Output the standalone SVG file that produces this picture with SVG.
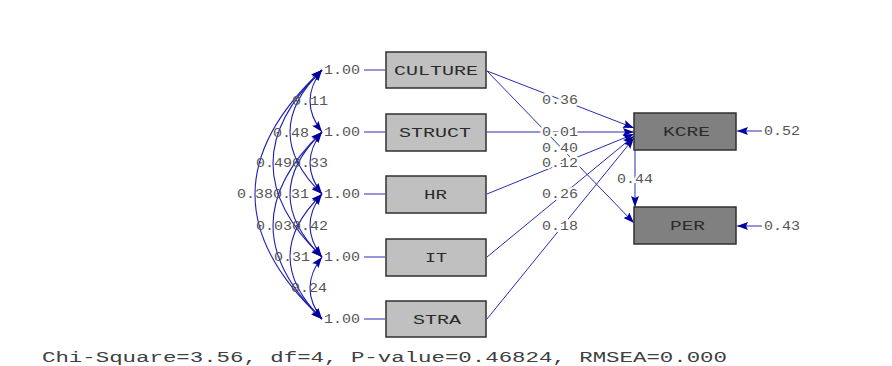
<svg xmlns="http://www.w3.org/2000/svg" width="892" height="366" viewBox="0 0 892 366">
<defs>
<marker id="ah" viewBox="0 0 11 8" refX="11" refY="4" markerWidth="11" markerHeight="8" markerUnits="userSpaceOnUse" orient="auto-start-reverse">
<path d="M0,0 L11,4 L0,8 L2,4 z" fill="#0000a0"/>
</marker>
</defs>
<style>
.bg{fill:#ffffff}
.box{fill:#c0c0c0;stroke:#303030;stroke-width:1.5}
.dbox{fill:#808080;stroke:#303030;stroke-width:1.5}
.lbl{font-family:"Liberation Mono",monospace;font-size:13px;fill:#2a2a2a;text-anchor:middle}
.num{font-family:"Liberation Mono",monospace;font-size:12px;fill:#555555}
.mask{stroke:#ffffff;stroke-width:4;paint-order:stroke}
.ln{stroke:#2a2ab0;stroke-width:1;fill:none}
.cv{stroke:#2020b0;stroke-width:1.1;fill:none;marker-start:url(#ah);marker-end:url(#ah)}
.ar{marker-end:url(#ah)}
.fit{font-family:"Liberation Mono",monospace;font-size:14px;fill:#404040}
</style>
<rect class="bg" x="0" y="0" width="892" height="366"/>

<g id="connectors">
<!-- covariances -->
<path class="cv" d="M322,70 Q298,101 322,132"/>
<path class="cv" d="M322,132 Q298,163 322,194"/>
<path class="cv" d="M322,194 Q298,225.5 322,257"/>
<path class="cv" d="M322,257 Q298,288 322,319"/>
<path class="cv" d="M322,70 Q258,132 322,194"/>
<path class="cv" d="M322,132 Q258,194.5 322,257"/>
<path class="cv" d="M322,194 Q258,256.5 322,319"/>
<path class="cv" d="M322,70 Q224,163.5 322,257"/>
<path class="cv" d="M322,132 Q224,225.5 322,319"/>
<path class="cv" d="M322,70 Q188,194.5 322,319"/>
<!-- variance ticks -->
<path class="ln" d="M364,70 H385 M364,132 H385 M364,194 H385 M364,257 H385 M364,319 H385"/>
<!-- structural paths -->
<path class="ln ar" d="M487,71 L634,128"/>
<path class="ln ar" d="M487,71 L634,223"/>
<path class="ln ar" d="M487,132 L634,132"/>
<path class="ln ar" d="M487,194 L634,134"/>
<path class="ln ar" d="M487,257 L634,136"/>
<path class="ln ar" d="M487,319 L634,138"/>
<path class="ln ar" d="M635,150 L635,207"/>
<path class="ln ar" d="M762,131 L737,131"/>
<path class="ln ar" d="M762,226 L737,226"/>
<!-- labels -->
<text class="num" x="292" y="105" textLength="36" lengthAdjust="spacingAndGlyphs">0.11</text>
<text class="num" x="273" y="137" textLength="36" lengthAdjust="spacingAndGlyphs">0.48</text>
<text class="num" x="256" y="167" textLength="36" lengthAdjust="spacingAndGlyphs">0.49</text>
<text class="num" x="292" y="167" textLength="36" lengthAdjust="spacingAndGlyphs">0.33</text>
<text class="num" x="237" y="198" textLength="36" lengthAdjust="spacingAndGlyphs">0.38</text>
<text class="num" x="273" y="198" textLength="36" lengthAdjust="spacingAndGlyphs">0.31</text>
<text class="num" x="256" y="230" textLength="36" lengthAdjust="spacingAndGlyphs">0.03</text>
<text class="num" x="292" y="230" textLength="36" lengthAdjust="spacingAndGlyphs">0.42</text>
<text class="num" x="274" y="261" textLength="36" lengthAdjust="spacingAndGlyphs">0.31</text>
<text class="num" x="291" y="292" textLength="36" lengthAdjust="spacingAndGlyphs">0.24</text>
<text class="num" x="324" y="74" textLength="36" lengthAdjust="spacingAndGlyphs">1.00</text>
<text class="num" x="324" y="136" textLength="36" lengthAdjust="spacingAndGlyphs">1.00</text>
<text class="num" x="324" y="198" textLength="36" lengthAdjust="spacingAndGlyphs">1.00</text>
<text class="num" x="324" y="261" textLength="36" lengthAdjust="spacingAndGlyphs">1.00</text>
<text class="num" x="324" y="323" textLength="36" lengthAdjust="spacingAndGlyphs">1.00</text>
<text class="num mask" x="542" y="104" textLength="36" lengthAdjust="spacingAndGlyphs">0.36</text>
<text class="num mask" x="542" y="136" textLength="36" lengthAdjust="spacingAndGlyphs">0.01</text>
<text class="num mask" x="542" y="152" textLength="36" lengthAdjust="spacingAndGlyphs">0.40</text>
<text class="num mask" x="542" y="167" textLength="36" lengthAdjust="spacingAndGlyphs">0.12</text>
<text class="num mask" x="542" y="198" textLength="36" lengthAdjust="spacingAndGlyphs">0.26</text>
<text class="num mask" x="542" y="230" textLength="36" lengthAdjust="spacingAndGlyphs">0.18</text>
<text class="num mask" x="617" y="183" textLength="36" lengthAdjust="spacingAndGlyphs">0.44</text>
<text class="num" x="764" y="135" textLength="36" lengthAdjust="spacingAndGlyphs">0.52</text>
<text class="num" x="764" y="230" textLength="36" lengthAdjust="spacingAndGlyphs">0.43</text>
</g>

<g id="CULTURE"><rect class="box" x="386" y="52" width="100" height="36"/><text class="lbl" x="436" y="75" textLength="84" lengthAdjust="spacingAndGlyphs">CULTURE</text></g>
<g id="STRUCT"><rect class="box" x="386" y="114" width="100" height="37"/><text class="lbl" x="435" y="137" textLength="72" lengthAdjust="spacingAndGlyphs">STRUCT</text></g>
<g id="HR"><rect class="box" x="386" y="176" width="100" height="37"/><text class="lbl" x="435.5" y="199" textLength="23" lengthAdjust="spacingAndGlyphs">HR</text></g>
<g id="IT"><rect class="box" x="386" y="239" width="100" height="37"/><text class="lbl" x="436" y="262" textLength="22" lengthAdjust="spacingAndGlyphs">IT</text></g>
<g id="STRA"><rect class="box" x="386" y="301" width="100" height="36"/><text class="lbl" x="437" y="324" textLength="48" lengthAdjust="spacingAndGlyphs">STRA</text></g>
<g id="KCRE"><rect class="dbox" x="634" y="113" width="102" height="37"/><text class="lbl" x="686.5" y="136" textLength="47" lengthAdjust="spacingAndGlyphs">KCRE</text></g>
<g id="PER"><rect class="dbox" x="634" y="207" width="102" height="37"/><text class="lbl" x="687.5" y="230" textLength="35" lengthAdjust="spacingAndGlyphs">PER</text></g>

<text class="fit" x="42" y="362" textLength="685" lengthAdjust="spacingAndGlyphs">Chi-Square=3.56, df=4, P-value=0.46824, RMSEA=0.000</text>
</svg>
